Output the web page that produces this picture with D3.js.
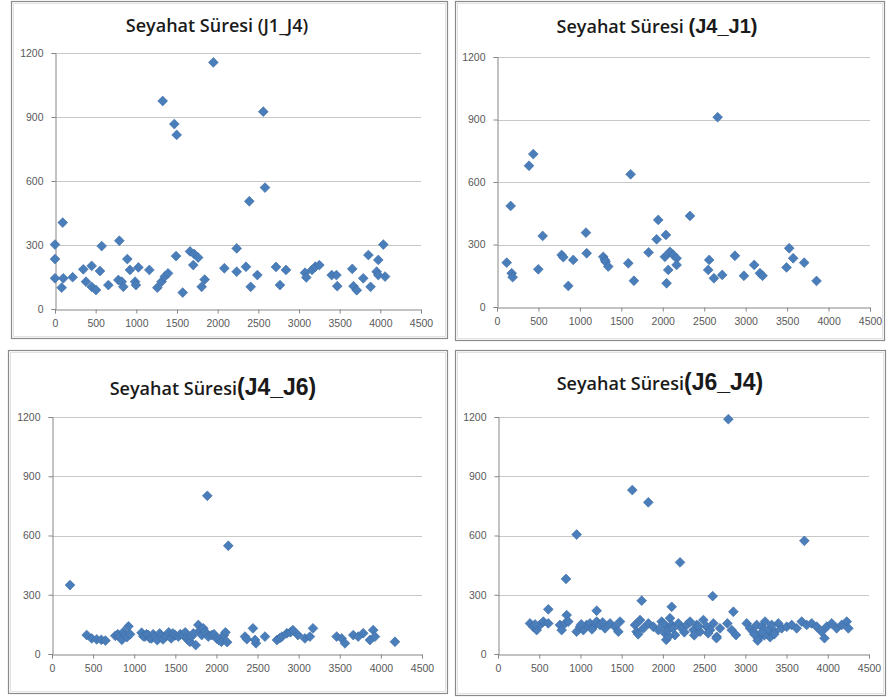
<!DOCTYPE html>
<html>
<head>
<meta charset="utf-8">
<script src="https://cdn.jsdelivr.net/npm/d3@7"></script>
<style>
  body { margin: 0; background: #fff; }
  svg { display: block; }
  .tick text { font-family: "Liberation Sans", Arial, sans-serif; font-size: 10.5px; fill: #595959; }
  .title { font-family: "Open Sans", "Liberation Sans", sans-serif; fill: #1a1a1a; }
</style>
</head>
<body>
<svg id="chart" width="888" height="697"></svg>
<script>
// tick values shared by the four panels
var xTicks = [0, 500, 1000, 1500, 2000, 2500, 3000, 3500, 4000, 4500];
var yTicks = [0, 300, 600, 900, 1200];

// [x, travel time]
var j1_j4 = [[0,302],[0,234],[0,144],[95,405],[82,100],[102,144],[217,149],[348,186],[451,202],[381,128],
  [451,104],[504,89],[553,178],[574,295],[656,112],[791,320],[779,136],[820,128],[840,104],[889,234],
  [922,183],[1025,195],[985,128],[995,112],[1160,183],[1258,100],[1310,128],[1350,152],[1390,167],[1488,248],
  [1570,77],[1660,270],[1710,258],[1760,241],[1700,206],[1803,104],[1840,138],[2082,191],[2234,284],[2234,175],
  [2348,198],[2389,505],[2406,104],[2488,159],[2582,569],[2717,197],[2766,112],[2840,183],[3074,170],[3090,148],
  [3160,183],[3200,198],[3250,206],[3402,159],[3460,159],[3470,107],[3655,188],[3670,107],[3710,88],[3790,144],
  [3880,104],[3853,253],[3975,230],[3955,175],[3975,159],[4037,302],[4058,152],[1324,975],[1467,867],[1496,816],
  [1947,1156],[2561,925]];

var j4_j1 = [[438,734],[386,678],[1612,637],[165,485],[551,341],[117,213],[177,162],[189,143],[498,181],[780,250],
  [800,239],[920,226],[860,101],[1073,357],[1082,258],[1282,241],[1302,226],[1310,217],[1342,194],[1584,210],
  [1652,126],[1829,262],[1945,418],[1926,325],[2038,346],[2026,241],[2086,265],[2127,250],[2167,234],[2066,178],
  [2046,114],[2167,202],[2328,437],[2560,226],[2548,178],[2617,138],[2717,154],[2870,246],[2979,150],[3103,202],
  [3172,162],[3204,150],[3525,282],[3573,234],[3493,190],[3706,213],[3855,125],[2662,911]];

var j4_j6 = [[219,349],[1889,801],[2144,548],
  [422,96],[483,79],[544,74],[600,72],[650,68],
  [770,92],[800,100],[820,88],[850,72],[870,112],[890,96],[910,85],[930,140],[950,100],
  [1090,108],[1110,90],[1130,88],[1150,100],[1170,96],[1190,80],[1210,79],[1230,100],[1250,88],[1280,70],[1310,104],
  [1330,90],[1350,74],[1390,91],[1420,110],[1450,79],[1470,104],[1500,95],
  [1536,88],[1560,100],[1597,96],[1620,110],[1637,79],[1660,70],[1678,62],[1700,90],[1719,104],[1748,45],[1780,147],
  [1800,120],[1821,96],[1840,130],[1861,113],[1880,100],[1901,88],[1942,96],[1970,100],[2003,79],[2030,70],
  [2060,62],[2090,95],[2110,110],[2130,60],
  [2347,88],[2370,75],[2444,130],[2481,54],[2470,71],[2590,88],[2736,71],[2770,80],[2797,88],[2857,105],[2900,110],
  [2930,121],[2991,96],[3076,79],[3137,88],[3174,130],
  [3462,88],[3523,79],[3563,54],[3664,96],[3724,88],[3785,105],[3867,71],[3907,121],[3928,88],[4171,62]];

var j6_j4 = [[2794,1189],[1629,830],[1823,768],[954,605],[825,380],[2208,464],[3716,573],[2604,293],[1743,270],
  [610,226],[1197,219],[2107,239],[2855,214],[833,197],
  [388,155],[428,138],[469,121],[509,147],[550,164],[610,155],[450,150],
  [752,147],[772,121],[813,155],[853,164],
  [954,113],[995,138],[1035,121],[1076,147],[1116,155],[1156,138],[1197,164],[1237,147],[1298,130],[1359,155],
  [1419,138],[1460,113],[1480,164],[1010,150],[1140,125],[1270,160],
  [1662,147],[1682,113],[1723,172],[1763,130],[1824,155],[1884,138],[1945,121],[1985,164],[2026,104],[2046,138],
  [2086,181],[2107,147],[2147,96],[2188,155],[2228,130],[2289,147],[2329,164],[2370,121],[2410,147],[2451,113],
  [2491,172],[2532,138],[2572,121],[2612,155],[2653,87],[2693,130],
  [2040,72],[2070,88],[2380,95],[2650,80],[1700,100],[2000,150],[2060,120],[2120,130],[2260,110],[2430,140],[2550,105],
  [2782,155],[2835,121],[2887,96],
  [3017,155],[3057,130],[3097,113],[3138,147],[3158,79],[3199,138],[3239,164],[3279,121],[3320,147],[3360,113],
  [3400,155],[3441,130],[3502,138],[3562,147],[3623,130],[3684,164],[3744,147],[3805,155],[3866,138],[3926,113],
  [3987,138],[4048,155],[4108,130],[4169,147],[4230,164],[4250,130],
  [3150,68],[3300,85],[3960,80],[3230,95],[3110,100],[3200,110],[3350,100]];

var svg = d3.select("#chart");

var panels = [
  { box: [11, 1, 436, 337], x0: 55, x1: 421, yb: 309, yt: 53,
    title: ["Seyahat Süresi ", "(J1_J4)"], tx: 217, ty: 32, size: [18, 18], narrow: false, data: j1_j4 },
  { box: [455, 1, 429, 339], x0: 497, x1: 870, yb: 307, yt: 57,
    title: ["Seyahat Süresi ", "(J4_J1)"], tx: 657, ty: 33, size: [18, 20], narrow: true, data: j4_j1 },
  { box: [8, 350, 439, 343], x0: 52, x1: 422, yb: 654, yt: 417,
    title: ["Seyahat Süresi", "(J4_J6)"], tx: 213, ty: 395, size: [18, 23], narrow: true, data: j4_j6 },
  { box: [455, 350, 430, 345], x0: 498, x1: 869, yb: 654, yt: 417,
    title: ["Seyahat Süresi", "(J6_J4)"], tx: 660, ty: 390, size: [18, 23], narrow: true, data: j6_j4 }
];

var diamond = d3.symbol().type(d3.symbolSquare).size(48);

panels.forEach(function(p) {
  var g = svg.append("g");
  var b = p.box;

  // panel frame (a faint second line for the Excel look)
  g.append("rect")
    .attr("x", b[0] + 0.5).attr("y", b[1] + 0.5)
    .attr("width", b[2]).attr("height", b[3])
    .attr("fill", "#fff").attr("stroke", "#8a8a8a").attr("stroke-width", 1.2);
  g.append("rect")
    .attr("x", b[0] + 2.5).attr("y", b[1] + 2.5)
    .attr("width", b[2] - 4).attr("height", b[3] - 4)
    .attr("fill", "none").attr("stroke", "#e2e2e2");

  var x = d3.scaleLinear().domain([0, 4500]).range([p.x0, p.x1]);
  var y = d3.scaleLinear().domain([0, 1200]).range([p.yb, p.yt]);

  // gridlines
  g.append("g")
    .selectAll("line")
    .data(yTicks.slice(1))
    .enter().append("line")
      .attr("x1", p.x0).attr("x2", p.x1)
      .attr("y1", function(d) { return Math.round(y(d)) + 0.5; })
      .attr("y2", function(d) { return Math.round(y(d)) + 0.5; })
      .attr("stroke", "#c8c8c8");

  var ya = g.append("g")
    .attr("transform", "translate(" + (p.x0 + 0.5) + ",0)")
    .call(d3.axisLeft(y).tickValues(yTicks).tickSize(4).tickPadding(8).tickFormat(d3.format("d")));
  var xa = g.append("g")
    .attr("transform", "translate(0," + (Math.round(p.yb) + 0.5) + ")")
    .call(d3.axisBottom(x).tickValues(xTicks).tickSize(4).tickPadding(6).tickFormat(d3.format("d")));
  [ya, xa].forEach(function(a) {
    a.select(".domain").attr("stroke", "#868686");
    a.selectAll(".tick line").attr("stroke", "#868686");
    a.selectAll(".tick text").attr("font-size", null).attr("font-family", null);
  });

  // title
  var t = g.append("text")
    .attr("class", "title")
    .attr("x", p.tx).attr("y", p.ty)
    .attr("text-anchor", "middle");
  t.append("tspan").attr("font-size", p.size[0]).attr("font-weight", 600).text(p.title[0]);
  t.append("tspan")
    .attr("font-size", p.size[1])
    .attr("font-weight", p.narrow ? "bold" : 600)
    .attr("font-family", p.narrow ? "'Liberation Sans Narrow', 'Liberation Sans', sans-serif" : null)
    .text(p.title[1]);

  // points
  g.append("g")
    .selectAll("path")
    .data(p.data)
    .enter().append("path")
      .attr("d", diamond)
      .attr("transform", function(d) {
        return "translate(" + x(d[0]) + "," + y(d[1]) + ") rotate(45)";
      })
      .attr("fill", "#4a7ebb")
      .attr("stroke", "#3d6ca3")
      .attr("stroke-width", 0.6);
});
</script>
</body>
</html>
